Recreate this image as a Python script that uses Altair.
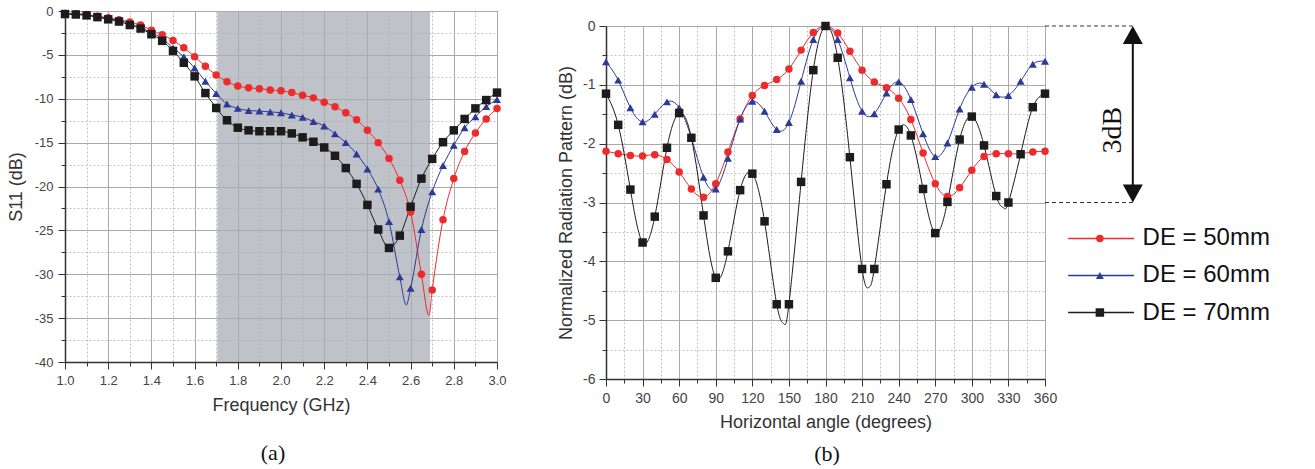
import altair as alt
import pandas as pd

# ---------------- data ----------------
series = ["DE = 50mm", "DE = 60mm", "DE = 70mm"]
colors = ["#ee2a2a", "#2b3a96", "#1c1c1c"]
shapes = ["circle", "triangle-up", "square"]

# (a) S11 vs frequency
freq = [1.00, 1.05, 1.10, 1.15, 1.20, 1.25, 1.30, 1.35, 1.40, 1.45,
        1.50, 1.55, 1.60, 1.65, 1.70, 1.75, 1.80, 1.85, 1.90, 1.95,
        2.00, 2.05, 2.10, 2.15, 2.20, 2.25, 2.30, 2.35, 2.40, 2.45,
        2.50, 2.55, 2.60, 2.65, 2.70, 2.75, 2.80, 2.85, 2.90, 2.95, 3.00]
s11_50 = [-0.27, -0.3, -0.4, -0.6, -0.76, -1.0, -1.25, -1.6, -2.2, -2.7,
          -3.35, -4.2, -5.2, -6.3, -7.3, -8.05, -8.55, -8.75, -8.85, -9.0,
          -9.1, -9.3, -9.6, -9.9, -10.4, -10.9, -11.6, -12.4, -13.6, -15.0,
          -16.8, -19.3, -22.9, -30.0, -31.8, -23.8, -19.1, -16.0, -13.9, -12.3, -11.1]
s11_60 = [-0.3, -0.35, -0.45, -0.65, -0.85, -1.1, -1.4, -1.9, -2.45, -3.15,
          -4.2, -5.2, -6.5, -8.0, -9.4, -10.6, -11.1, -11.35, -11.4, -11.5,
          -11.6, -11.85, -12.1, -12.6, -13.1, -14.0, -15.0, -16.3, -18.0, -20.3,
          -24.0, -30.3, -31.6, -24.9, -20.6, -17.6, -15.3, -13.3, -12.05, -10.9, -10.1]
s11_70 = [-0.35, -0.4, -0.5, -0.7, -0.95, -1.2, -1.6, -2.0, -2.65, -3.4,
          -4.55, -5.9, -7.45, -9.35, -11.05, -12.45, -13.3, -13.6, -13.7, -13.7,
          -13.7, -13.95, -14.4, -14.9, -15.55, -16.5, -17.9, -19.7, -22.1, -24.9,
          -27.0, -25.6, -22.3, -19.1, -16.85, -14.95, -13.6, -12.3, -11.1, -10.15, -9.3]
# curve minima between markers (line only)
s11_min_freq = [2.685, 2.58]
s11_min_val = [-34.7, -33.5]
s11_min_series = ["DE = 50mm", "DE = 60mm"]
band_start = [1.705]
band_end = [2.69]

# (b) normalized radiation pattern
angle = list(range(0, 361, 10))
rp_50 = [-2.13, -2.17, -2.2, -2.21, -2.19, -2.27, -2.48, -2.77, -2.91, -2.68,
         -2.14, -1.58, -1.18, -1.01, -0.91, -0.73, -0.41, -0.11, 0.0,
         -0.12, -0.43, -0.75, -0.95, -1.05, -1.23, -1.59, -2.16, -2.68,
         -2.9, -2.75, -2.45, -2.22, -2.17, -2.17, -2.17, -2.14, -2.13]
rp_60 = [-0.61, -0.92, -1.39, -1.63, -1.5, -1.29, -1.39, -1.9, -2.57, -2.77,
         -2.25, -1.58, -1.28, -1.45, -1.76, -1.64, -0.94, -0.23, 0.0,
         -0.23, -0.88, -1.45, -1.49, -1.14, -0.95, -1.25, -1.83, -2.22,
         -1.99, -1.41, -1.04, -0.99, -1.17, -1.18, -0.94, -0.65, -0.6]
rp_70 = [-1.15, -1.68, -2.78, -3.68, -3.24, -2.07, -1.48, -1.9, -3.22, -4.28,
         -3.83, -2.79, -2.51, -3.32, -4.73, -4.73, -2.65, -0.75, 0.0,
         -0.54, -2.23, -4.13, -4.13, -2.69, -1.76, -1.86, -2.77, -3.52,
         -2.99, -1.93, -1.54, -2.03, -2.89, -3.0, -2.18, -1.38, -1.15]
rp_min_angle = [145.8, 215.6, 326.0]
rp_min_val = [-5.06, -4.44, -3.09]
rp_min_series = ["DE = 70mm", "DE = 70mm", "DE = 70mm"]

# axis tick values
xa_ticks = [1.0, 1.1, 1.2, 1.3, 1.4, 1.5, 1.6, 1.7, 1.8, 1.9, 2.0,
            2.1, 2.2, 2.3, 2.4, 2.5, 2.6, 2.7, 2.8, 2.9, 3.0]
ya_ticks = [0, -2.5, -5, -7.5, -10, -12.5, -15, -17.5, -20, -22.5, -25,
            -27.5, -30, -32.5, -35, -37.5, -40]
xb_ticks = [0, 15, 30, 45, 60, 75, 90, 105, 120, 135, 150, 165, 180, 195, 210,
            225, 240, 255, 270, 285, 300, 315, 330, 345, 360]
yb_ticks = [0, -0.5, -1, -1.5, -2, -2.5, -3, -3.5, -4, -4.5, -5, -5.5, -6]


def long_df(xs, ys_list):
    rows = []
    for s, ys in zip(series, ys_list):
        for xv, yv in zip(xs, ys):
            rows.append({"series": s, "x": xv, "y": yv})
    return pd.DataFrame(rows)


pts_a = long_df(freq, [s11_50, s11_60, s11_70])
line_a = pd.concat([pts_a, pd.DataFrame({"series": s11_min_series, "x": s11_min_freq,
                                         "y": s11_min_val})]).sort_values(["series", "x"])
pts_b = long_df(angle, [rp_50, rp_60, rp_70])
line_b = pd.concat([pts_b, pd.DataFrame({"series": rp_min_series, "x": rp_min_angle,
                                         "y": rp_min_val})]).sort_values(["series", "x"])

# ---------------- styling helpers ----------------
LABEL_FONT = "Liberation Sans"
GRID_MAJOR = "#a9a9a9"
GRID_MINOR = "#c2c2c2"


def axis(values, major_test, label_expr, title, label_size=13, title_size=18,
         label_pad=5, title_pad=8):
    return alt.Axis(
        values=values,
        labelExpr=label_expr,
        labelOverlap=False,
        labelFlush=False,
        labelSeparation=0,
        title=title,
        grid=True,
        gridColor={"condition": {"test": major_test, "value": GRID_MAJOR}, "value": GRID_MINOR},
        gridDash={"condition": {"test": major_test, "value": []}, "value": [2, 2]},
        gridWidth=1,
        tickSize={"condition": {"test": major_test, "value": 7}, "value": 4},
        tickColor="#333",
        tickWidth=1,
        domainColor="#333",
        domainWidth=1.5,
        labelFont=LABEL_FONT,
        labelFontSize=label_size,
        labelColor="#444",
        labelPadding=label_pad,
        titleFont=LABEL_FONT,
        titleFontSize=title_size,
        titleFontWeight="normal",
        titleColor="#333",
        titlePadding=title_pad,
    )


color_enc = alt.Color("series:N", scale=alt.Scale(domain=series, range=colors), legend=None)
shape_enc = alt.Shape("series:N", scale=alt.Scale(domain=series, range=shapes), legend=None)

# ---------------- panel (a) ----------------
W_A, H_A = 432, 351
xa = alt.X("x:Q", scale=alt.Scale(domain=[1.0, 3.0], nice=False, zero=False),
           axis=axis(xa_ticks, "abs(round(datum.value*10)) % 2 == 0",
                     "abs(round(datum.value*10)) % 2 == 0 ? format(datum.value, '.1f') : ''",
                     "Frequency (GHz)", title_pad=9))
ya = alt.Y("y:Q", scale=alt.Scale(domain=[-40, 0], nice=False, zero=False),
           axis=axis(ya_ticks, "abs(datum.value) % 5 == 0",
                     "abs(datum.value) % 5 == 0 ? '' + datum.value : ''",
                     "S11 (dB)", title_pad=9))

band_df = pd.DataFrame({"x": band_start, "x2": band_end, "y": [-40], "y2": [0]})
band = alt.Chart(band_df).mark_rect(color="#a9aeb6", opacity=0.75).encode(
    x=xa, x2="x2:Q", y=ya, y2="y2:Q")
lines_a = alt.Chart(line_a).mark_line(interpolate="monotone", strokeWidth=1).encode(
    x=xa, y=ya, color=color_enc, detail="series:N")
points_a = alt.Chart(pts_a).mark_point(filled=True, opacity=1, strokeWidth=0).encode(
    x=xa, y=ya, color=color_enc, shape=shape_enc,
    size=alt.Size("series:O", scale=alt.Scale(domain=series, range=[56, 72, 49]), legend=None))
cap_a = alt.Chart(pd.DataFrame({"t": ["(a)"]})).mark_text(
    font="Liberation Serif", fontSize=22, color="#111").encode(
    text="t:N", x=alt.value(208), y=alt.value(H_A + 91))

panel_a = alt.layer(band, lines_a, points_a, cap_a).properties(width=W_A, height=H_A)

# ---------------- panel (b) ----------------
W_B, H_B = 439, 353
xb = alt.X("x:Q", scale=alt.Scale(domain=[0, 360], nice=False, zero=False),
           axis=axis(xb_ticks, "datum.value % 30 == 0",
                     "datum.value % 30 == 0 ? '' + datum.value : ''",
                     "Horizontal angle (degrees)", label_size=14, title_pad=8))
yb = alt.Y("y:Q", scale=alt.Scale(domain=[-6, 0], nice=False, zero=False),
           axis=axis(yb_ticks, "datum.value % 1 == 0",
                     "datum.value % 1 == 0 ? '' + datum.value : ''",
                     "Normalized Radiation Pattern (dB)", label_size=14, title_size=18,
                     label_pad=4, title_pad=7))

lines_b = alt.Chart(line_b).mark_line(interpolate="natural", strokeWidth=1).encode(
    x=xb, y=yb, color=color_enc, detail="series:N")
points_b = alt.Chart(pts_b).mark_point(filled=True, opacity=1, strokeWidth=0).encode(
    x=xb, y=yb, color=color_enc, shape=shape_enc,
    size=alt.Size("series:O", scale=alt.Scale(domain=series, range=[64, 100, 56]), legend=None))

# 3 dB annotation (in data units of the pattern plot, drawn right of the frame)
ref_levels = [0, -3]
arrow_x = 432
dash_df = pd.DataFrame({"x": [360, 360], "x2": [arrow_x, arrow_x], "y": ref_levels})
dashes = alt.Chart(dash_df).mark_rule(strokeDash=[4, 3], color="#333", strokeWidth=1).encode(
    x=xb, x2="x2:Q", y=yb)
arrow_df = pd.DataFrame({"x": [arrow_x], "y": [ref_levels[0] - 0.2], "y2": [ref_levels[1] + 0.2]})
arrow = alt.Chart(arrow_df).mark_rule(color="#111", strokeWidth=2).encode(
    x=xb, y=yb, y2="y2:Q")
head_up = alt.Chart(pd.DataFrame({"x": [arrow_x], "y": [ref_levels[0]]})).mark_point(
    shape="M0,0L0.5,0.9L-0.5,0.9Z", size=1600, filled=True, opacity=1, color="#111",
    strokeWidth=0).encode(x=xb, y=yb)
head_dn = alt.Chart(pd.DataFrame({"x": [arrow_x], "y": [ref_levels[1]]})).mark_point(
    shape="M0,0L0.5,-0.9L-0.5,-0.9Z", size=1600, filled=True, opacity=1, color="#111",
    strokeWidth=0).encode(x=xb, y=yb)
db_text = alt.Chart(pd.DataFrame({"x": [416], "y": [-1.77], "t": ["3dB"]})).mark_text(
    angle=270, font="Liberation Serif", fontSize=28, color="#111").encode(
    x=xb, y=yb, text="t:N")

# legend (drawn in the pattern plot's data space, right of the frame)
leg_rows = [-3.61, -4.24, -4.87]
leg_line_df = pd.DataFrame({"series": series, "y": leg_rows, "x": [379] * 3, "x2": [433] * 3})
leg_pt_df = pd.DataFrame({"series": series, "y": leg_rows, "x": [405] * 3})
leg_txt_df = pd.DataFrame({"series": series, "y": leg_rows, "x": [440] * 3})
leg_lines = alt.Chart(leg_line_df).mark_rule(strokeWidth=1.5).encode(
    x=xb, x2="x2:Q", y=yb, color=color_enc)
leg_pts = alt.Chart(leg_pt_df).mark_point(filled=True, opacity=1, strokeWidth=0).encode(
    x=xb, y=yb, color=color_enc, shape=shape_enc,
    size=alt.Size("series:O", scale=alt.Scale(domain=series, range=[144, 225, 121]), legend=None))
leg_text = alt.Chart(leg_txt_df).mark_text(align="left", baseline="middle", font=LABEL_FONT,
                                           fontSize=24, color="#111").encode(
    x=xb, y=yb, text="series:N")

cap_b = alt.Chart(pd.DataFrame({"t": ["(b)"]})).mark_text(
    font="Liberation Serif", fontSize=22, color="#111").encode(
    text="t:N", x=alt.value(221), y=alt.value(H_B + 75))

panel_b = alt.layer(lines_b, points_b, dashes, arrow, head_up, head_dn, db_text,
                    leg_lines, leg_pts, leg_text, cap_b).properties(width=W_B, height=H_B)

# small invisible spacer so that panel (b) sits lower than panel (a), as in the figure
spacer = alt.Chart(pd.DataFrame({"a": [0]})).mark_point(opacity=0, size=1).properties(
    width=1, height=1, view=alt.ViewBackground(stroke=None))

right = alt.vconcat(spacer, panel_b, spacing=6)

chart = alt.hconcat(panel_a, right, spacing=50).properties(
    padding={"left": 6, "top": 4, "right": 0, "bottom": 0},
    background="white",
).configure_view(stroke="#555", strokeWidth=1)

chart.save("out.html", embed_options={"renderer": "svg", "actions": False})
